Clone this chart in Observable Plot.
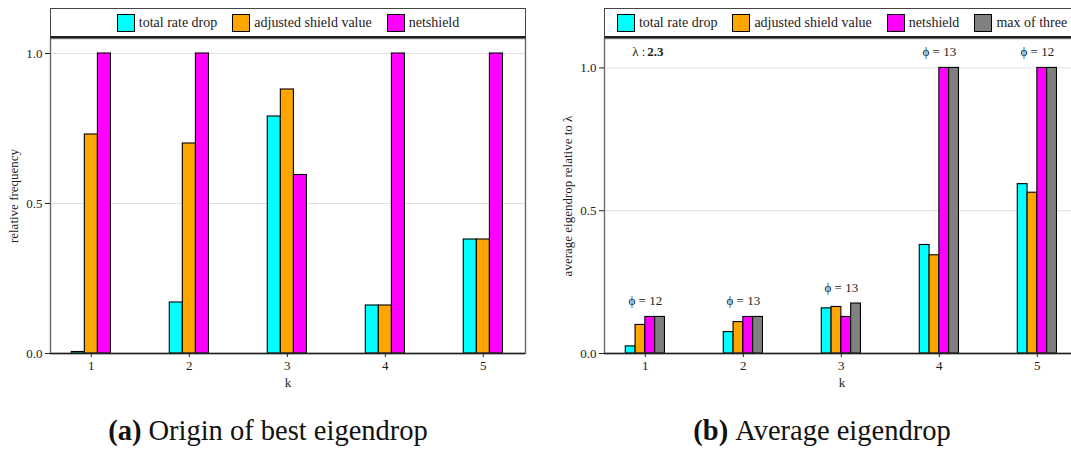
<!DOCTYPE html>
<html>
<head>
<meta charset="utf-8">
<script src="https://cdn.jsdelivr.net/npm/d3@7"></script>
<script src="https://cdn.jsdelivr.net/npm/@observablehq/plot@0.6"></script>
<style>
  html, body { margin: 0; padding: 0; background: #fff; overflow: hidden; }
  #wrap { position: relative; width: 1071px; height: 450px; overflow: hidden; font-family: 'Liberation Serif', serif; color: #111; }
  .panel { position: absolute; top: 0; }
  .panel svg { max-width: none !important; }
  .legend { position: absolute; top: 8px; height: 30px; box-sizing: border-box; border: 1px solid #444; border-bottom: 2px solid #222; background: #fff;
            display: flex; align-items: center; justify-content: center; font-size: 14px; white-space: nowrap; color: #222; }
  .item { display: flex; align-items: center; margin: 0 7.5px; }
  .sw { width: 18px; height: 18px; box-sizing: border-box; border: 1.2px solid #000; margin-right: 4px; }
  .caption { position: absolute; top: 415px; font-size: 28.5px; line-height: 1.1; white-space: nowrap; transform: translateX(-50%); color: #111; }
  .caption b { margin-right: 7px; }
</style>
</head>
<body>
<div id="wrap"></div>
<script>
// ---------- data ----------
const ks = [1, 2, 3, 4, 5];
const seriesA = ["total rate drop", "adjusted shield value", "netshield"];
const seriesB = ["total rate drop", "adjusted shield value", "netshield", "max of three"];
const seriesColors = ["#00ffff", "#ffa500", "#ff00ff", "#808080"];

// (a) origin of best eigendrop: relative frequency
const totalRateDropA = [0.005, 0.17, 0.79, 0.16, 0.38];
const adjustedShieldA = [0.73, 0.70, 0.88, 0.16, 0.38];
const netshieldA = [1.0, 1.0, 0.595, 1.0, 1.0];

// (b) average eigendrop relative to lambda
const totalRateDropB = [0.025, 0.075, 0.158, 0.38, 0.593];
const adjustedShieldB = [0.10, 0.11, 0.163, 0.344, 0.563];
const netshieldB = [0.128, 0.128, 0.128, 1.0, 1.0];
const maxOfThreeB = [0.128, 0.128, 0.175, 1.0, 1.0];
const phiValues = [12, 13, 13, 13, 12];
const lambdaValue = 2.3;

const yTicks = [0, 0.5, 1.0];
const captionA = ["(a)", "Origin of best eigendrop"];
const captionB = ["(b)", "Average eigendrop"];

const FONT = "'Liberation Serif', serif";

// ---------- helpers ----------
const GROUP = 0.4; // group width in k units
function rowsFor(series, valueArrays) {
  const n = series.length, w = GROUP / n;
  const rows = [];
  ks.forEach((k, j) => {
    series.forEach((s, i) => {
      const x1 = k - GROUP / 2 + i * w;
      rows.push({k, series: s, value: valueArrays[i][j], x1, x2: x1 + w});
    });
  });
  return rows;
}

function makeChart({series, values, yMax, ylabel, width, marginLeft, marginRight, extra}) {
  const rows = rowsFor(series, values);
  const svg = Plot.plot({
    width, height: 400,
    marginLeft, marginRight, marginTop: 38, marginBottom: 47,
    style: {fontFamily: FONT, fontSize: "13px", color: "#222", background: "transparent", maxWidth: "none"},
    x: {type: "linear", domain: [0.583, 5.43]},
    y: {type: "linear", domain: [0, yMax]},
    color: {domain: seriesB, range: seriesColors},
    marks: [
      Plot.gridY(yTicks.slice(1), {stroke: "#dcdcdc", strokeOpacity: 1, strokeWidth: 0.9}),
      Plot.rectY(rows, {x1: "x1", x2: "x2", y1: 0, y2: "value", fill: "series", stroke: "#000", strokeWidth: 1.1}),
      ...(extra ? extra(rows) : []),
      Plot.frame({stroke: "#6a6a6a", strokeWidth: 1.4}),
      Plot.ruleY([0], {stroke: "#222", strokeWidth: 1.4}),
      Plot.axisY(yTicks, {tickFormat: d3.format(".1f"), tickSize: 5, tickPadding: 3, fontSize: 13,
        label: ylabel, labelAnchor: "center", labelArrow: "none", labelOffset: 42}),
      Plot.axisX(ks, {tickFormat: d => String(d), tickSize: 4, tickPadding: 3, fontSize: 13,
        label: "k", labelAnchor: "center", labelArrow: "none", labelOffset: 33})
    ]
  });
  svg.querySelectorAll("text").forEach(t => t.style.fontFamily = FONT);
  return svg;
}

function legend(series, left, width) {
  const div = document.createElement("div");
  div.className = "legend";
  div.style.left = left + "px";
  div.style.width = width + "px";
  div.style.fontFamily = FONT;
  series.forEach(s => {
    const it = document.createElement("div");
    it.className = "item";
    const sw = document.createElement("div");
    sw.className = "sw";
    sw.style.background = seriesColors[seriesB.indexOf(s)];
    const t = document.createElement("span");
    t.textContent = s;
    it.appendChild(sw); it.appendChild(t);
    div.appendChild(it);
  });
  return div;
}

function caption(parts, center) {
  const div = document.createElement("div");
  div.className = "caption";
  div.style.left = center + "px";
  div.style.fontFamily = FONT;
  const b = document.createElement("b");
  b.textContent = parts[0];
  div.appendChild(b);
  div.appendChild(document.createTextNode(parts[1]));
  return div;
}

// ---------- build ----------
const wrap = document.getElementById("wrap");

const chartA = makeChart({
  series: seriesA,
  values: [totalRateDropA, adjustedShieldA, netshieldA],
  yMax: 1.05, ylabel: "relative frequency",
  width: 535, marginLeft: 50, marginRight: 10
});
const pA = document.createElement("div");
pA.className = "panel"; pA.style.left = "0px"; pA.style.width = "535px";
pA.appendChild(chartA);
wrap.appendChild(pA);

const phiRows = ks.map((k, j) => ({k, phi: phiValues[j],
  top: Math.max(totalRateDropB[j], adjustedShieldB[j], netshieldB[j], maxOfThreeB[j])}));

const chartB = makeChart({
  series: seriesB,
  values: [totalRateDropB, adjustedShieldB, netshieldB, maxOfThreeB],
  yMax: 1.103, ylabel: "average eigendrop relative to λ",
  width: 544, marginLeft: 69, marginRight: 0,
  extra: () => [
    Plot.text(phiRows, {x: "k", y: "top", text: d => `ϕ = ${d.phi}`, dy: -16, fontSize: 13, fill: "#222"}),
    Plot.text([{k: ks[0]}], {x: "k", frameAnchor: "top", dy: 8, text: () => "λ :", textAnchor: "end", fontSize: 13, fill: "#222"}),
    Plot.text([{k: ks[0]}], {x: "k", frameAnchor: "top", dy: 8, text: () => String(lambdaValue), textAnchor: "start", dx: 2, fontSize: 13, fontWeight: "bold", fill: "#222"})
  ]
});
const pB = document.createElement("div");
pB.className = "panel"; pB.style.left = "535px"; pB.style.width = "544px";
pB.appendChild(chartB);
wrap.appendChild(pB);

wrap.appendChild(legend(seriesA, 50, 476));
wrap.appendChild(legend(seriesB, 604, 476));
wrap.appendChild(caption(captionA, 268));
wrap.appendChild(caption(captionB, 822));
</script>
</body>
</html>
